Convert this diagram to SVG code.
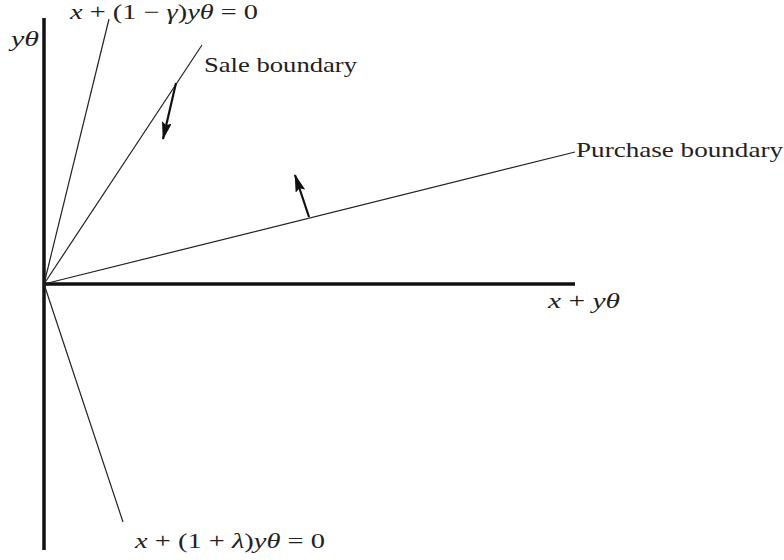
<svg xmlns="http://www.w3.org/2000/svg" width="784" height="560" viewBox="0 0 784 560">
<style>
.lbl{font-family:"Liberation Serif","Times New Roman",serif;font-size:21px;fill:#222}
.it{font-style:italic}
.axis{stroke:#111;stroke-width:3.5;fill:none}
.ln{stroke:#222;stroke-width:1.2;fill:none}
.arr{stroke:#111;stroke-width:2.2;fill:none}
</style>
<defs>
<marker id="ah" markerWidth="18" markerHeight="10" refX="17" refY="5" orient="auto" markerUnits="userSpaceOnUse">
<path d="M0,0 L18,5 L0,10 L3,5 Z" fill="#111"/>
</marker>
</defs>
<rect width="784" height="560" fill="#fff"/>
<g id="axes">
<line class="axis" x1="44" y1="18" x2="44" y2="550"/>
<line class="axis" x1="44" y1="284" x2="575" y2="284"/>
</g>
<g id="connectors">
<line class="ln" x1="44" y1="284" x2="109" y2="19"/>
<line class="ln" x1="44" y1="284" x2="202" y2="45"/>
<line class="ln" x1="44" y1="284" x2="575" y2="152"/>
<line class="ln" x1="44" y1="284" x2="123" y2="522"/>
<line class="arr" x1="176" y1="83" x2="163" y2="139" marker-end="url(#ah)"/>
<line class="arr" x1="309" y1="217" x2="295" y2="175" marker-end="url(#ah)"/>
</g>
<g id="label-top">
<text class="lbl" x="70" y="19" textLength="188" lengthAdjust="spacingAndGlyphs"><tspan class="it">x</tspan> + (1 − <tspan class="it">γ</tspan>)<tspan class="it">yθ</tspan> = 0</text>
</g>
<g id="label-ytheta">
<text class="lbl it" x="11" y="46" textLength="28" lengthAdjust="spacingAndGlyphs">yθ</text>
</g>
<g id="label-sale">
<text class="lbl" x="204" y="72" textLength="153" lengthAdjust="spacingAndGlyphs">Sale boundary</text>
</g>
<g id="label-purchase">
<text class="lbl" x="576" y="157" textLength="207" lengthAdjust="spacingAndGlyphs">Purchase boundary</text>
</g>
<g id="label-xy">
<text class="lbl" x="548" y="308" textLength="72" lengthAdjust="spacingAndGlyphs"><tspan class="it">x</tspan> + <tspan class="it">yθ</tspan></text>
</g>
<g id="label-bottom">
<text class="lbl" x="135" y="548" textLength="190" lengthAdjust="spacingAndGlyphs"><tspan class="it">x</tspan> + (1 + <tspan class="it">λ</tspan>)<tspan class="it">yθ</tspan> = 0</text>
</g>
</svg>
